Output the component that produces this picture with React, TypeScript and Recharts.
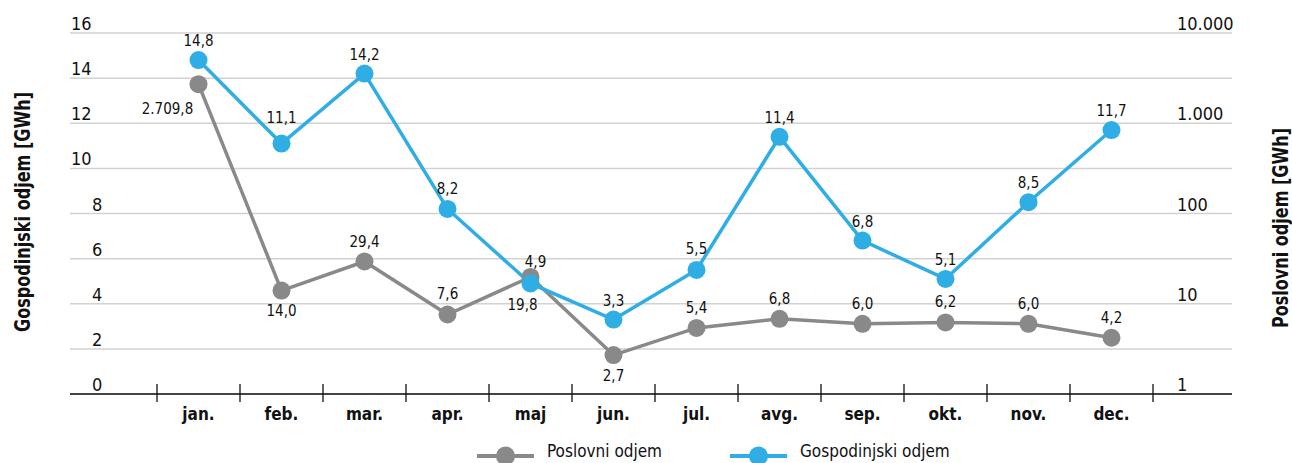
import React from 'react';
import { LineChart, Line, XAxis, YAxis, CartesianGrid, LabelList } from 'recharts';

const months = ['jan.', 'feb.', 'mar.', 'apr.', 'maj', 'jun.', 'jul.', 'avg.', 'sep.', 'okt.', 'nov.', 'dec.'];
const poslovni = [2709.8, 14.0, 29.4, 7.6, 19.8, 2.7, 5.4, 6.8, 6.0, 6.2, 6.0, 4.2];
const gospodinjski = [14.8, 11.1, 14.2, 8.2, 4.9, 3.3, 5.5, 11.4, 6.8, 5.1, 8.5, 11.7];
const leftTicks = [0, 2, 4, 6, 8, 10, 12, 14, 16];
const rightTicks = [1, 10, 100, 1000, 10000];

// label nudges (dx, dy from point centre to text baseline centre)
const grayLabelPos = [[-31, 30], [0, 25], [0, -14], [0, -16], [-8, 33], [0, 26], [0, -15], [0, -15], [0, -15], [0, -15], [0, -15], [0, -15]];
const blueLabelPos = [[0, -14], [0, -21], [0, -14], [0, -15], [5, -16], [0, -14], [0, -16], [0, -14], [0, -14], [0, -14], [0, -14], [0, -14]];

const data = months.map((m, i) => ({ month: m, poslovni: poslovni[i], gospodinjski: gospodinjski[i] }));

const W = 1292;
const H = 463;
const PLOT_LEFT = 70;
const PLOT_RIGHT = 1232;
const PLOT_TOP = 33;
const PLOT_BOTTOM = 394;
const PAD_L = 128.5;
const PAD_R = 120.5;
const BAND = (PLOT_RIGHT - PLOT_LEFT - PAD_L - PAD_R) / (months.length - 1);

const FONT = '"Liberation Sans Narrow", "DejaVu Sans Condensed", "Noto Sans", sans-serif';
const GRAY = '#898989';
const BLUE = '#2eaee4';

const fmt = (v: number, digits = 1) => {
  const [int, dec] = v.toFixed(digits).split('.');
  const withSep = int.replace(/\B(?=(\d{3})+(?!\d))/g, '.');
  return dec ? `${withSep},${dec}` : withSep;
};

const LeftTick = ({ y, payload }: any) => {
  const s = String(payload.value);
  return (
    <text x={s.length > 1 ? 71 : 92} y={y - 3} fontSize={18} fontFamily={FONT} fill="#111" textAnchor="start">
      {s}
    </text>
  );
};

const RightTick = ({ y, payload }: any) => (
  <text x={1177} y={y - 3} fontSize={18} fontFamily={FONT} fill="#111" textAnchor="start">
    {fmt(payload.value, 0)}
  </text>
);

const XTick = ({ x, payload, index }: any) => (
  <g>
    <line x1={x - BAND / 2} x2={x - BAND / 2} y1={PLOT_BOTTOM - 10} y2={PLOT_BOTTOM + 8} stroke="#111" strokeWidth={1.3} />
    {index === months.length - 1 && (
      <line x1={x + BAND / 2} x2={x + BAND / 2} y1={PLOT_BOTTOM - 10} y2={PLOT_BOTTOM + 8} stroke="#111" strokeWidth={1.3} />
    )}
    <text x={x} y={PLOT_BOTTOM + 26} fontSize={17} fontWeight="bold" fontFamily={FONT} fill="#111" textAnchor="middle">
      {payload.value}
    </text>
  </g>
);

const makeLabel = (pos: number[][]) => (props: any) => {
  const { x, y, value, index } = props;
  const [dx, dy] = pos[index] || [0, -14];
  return (
    <text x={x + dx} y={y + dy} fontSize={15} fontFamily={FONT} fill="#111" textAnchor="middle">
      {fmt(Number(value))}
    </text>
  );
};

const LegendItem = ({ color, label, x }: { color: string; label: string; x: number }) => (
  <g>
    <line x1={x} x2={x + 57} y1={456} y2={456} stroke={color} strokeWidth={4} />
    <circle cx={x + 28.5} cy={456} r={9.5} fill={color} />
    <text x={x + 70} y={457} fontSize={17} fontFamily={FONT} fill="#111">{label}</text>
  </g>
);

export default function App() {
  return (
    <div style={{ position: 'absolute', left: 0, top: 0, width: W, height: H, background: '#fff', overflow: 'hidden' }}>
      <LineChart width={W} height={H} data={data} margin={{ top: PLOT_TOP, right: 0, bottom: 0, left: 0 }}>
        <CartesianGrid yAxisId="left" vertical={false} stroke="#d2d2d2" strokeWidth={1.5} />
        <XAxis
          dataKey="month"
          height={H - PLOT_BOTTOM}
          padding={{ left: PAD_L, right: PAD_R }}
          axisLine={{ stroke: '#111', strokeWidth: 1.5 }}
          tickLine={false}
          tick={(p: any) => <XTick {...p} />}
          interval={0}
        />
        <YAxis
          yAxisId="left"
          width={PLOT_LEFT}
          domain={[0, 16]}
          ticks={leftTicks}
          axisLine={false}
          tickLine={false}
          tick={(p: any) => <LeftTick {...p} />}
          interval={0}
        />
        <YAxis
          yAxisId="right"
          orientation="right"
          width={W - PLOT_RIGHT}
          scale="log"
          type="number"
          domain={[1, 10000]}
          ticks={rightTicks}
          allowDataOverflow
          axisLine={false}
          tickLine={false}
          tick={(p: any) => <RightTick {...p} />}
          interval={0}
        />
        <Line
          yAxisId="right"
          dataKey="poslovni"
          name="Poslovni odjem"
          type="linear"
          stroke={GRAY}
          strokeWidth={3.5}
          dot={{ r: 9, fill: GRAY, stroke: GRAY, strokeWidth: 0 }}
          isAnimationActive={false}
        >
          <LabelList dataKey="poslovni" content={makeLabel(grayLabelPos)} />
        </Line>
        <Line
          yAxisId="left"
          dataKey="gospodinjski"
          name="Gospodinjski odjem"
          type="linear"
          stroke={BLUE}
          strokeWidth={3.5}
          dot={{ r: 9, fill: BLUE, stroke: BLUE, strokeWidth: 0 }}
          isAnimationActive={false}
        >
          <LabelList dataKey="gospodinjski" content={makeLabel(blueLabelPos)} />
        </Line>
      </LineChart>
      <svg width={W} height={H} style={{ position: 'absolute', left: 0, top: 0, pointerEvents: 'none' }}>
        <text transform="translate(30,212) rotate(-90)" fontSize={21} fontWeight="bold" fontFamily={FONT} fill="#111" textAnchor="middle" textLength={240} lengthAdjust="spacingAndGlyphs">
          Gospodinjski odjem [GWh]
        </text>
        <text transform="translate(1288,228) rotate(-90)" fontSize={21} fontWeight="bold" fontFamily={FONT} fill="#111" textAnchor="middle" textLength={200} lengthAdjust="spacingAndGlyphs">
          Poslovni odjem [GWh]
        </text>
        <LegendItem color={GRAY} label="Poslovni odjem" x={477} />
        <LegendItem color={BLUE} label="Gospodinjski odjem" x={730} />
      </svg>
    </div>
  );
}
